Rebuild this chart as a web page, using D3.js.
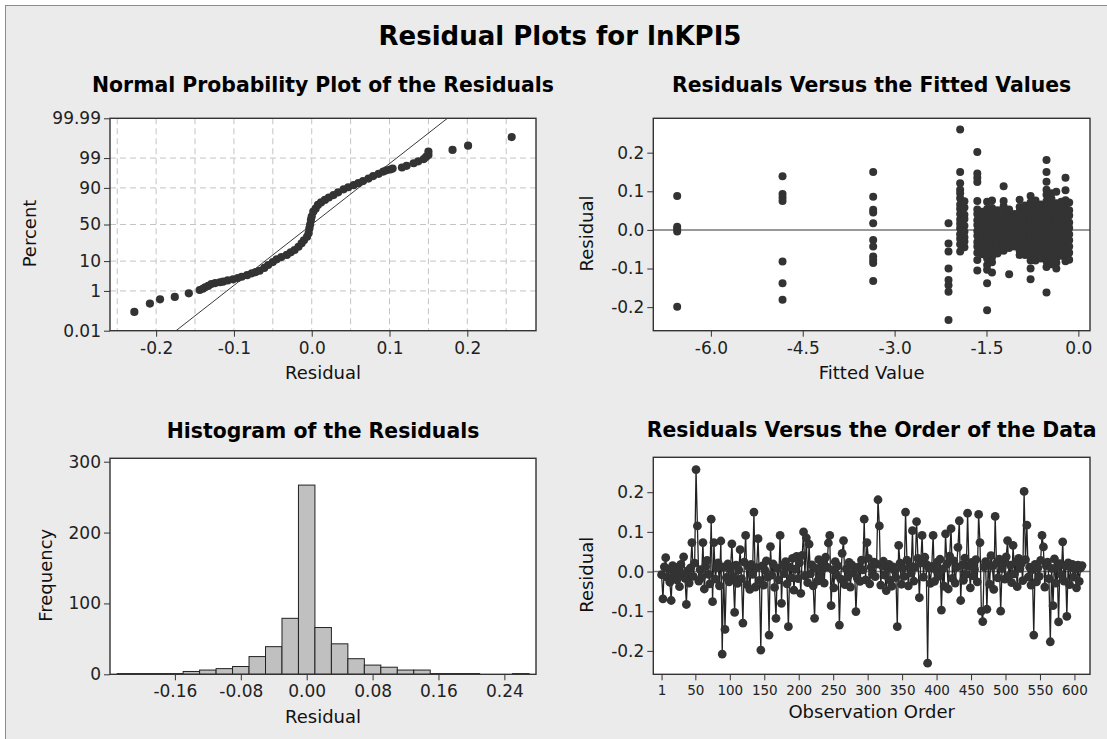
<!DOCTYPE html>
<html>
<head>
<meta charset="utf-8">
<script src="https://cdn.jsdelivr.net/npm/d3@7"></script>
<style>
  body { margin: 0; background: #fff; }
  svg text { font-family: "DejaVu Sans", sans-serif; }
</style>
</head>
<body>
<div id="chart"></div>
<script>
(function() {

  // normal probability plot: residual and cumulative percent
  var probRes = [-0.228, -0.208, -0.195, -0.176, -0.158, -0.144, -0.140, -0.137, -0.133, -0.129,
                 -0.124, -0.118, -0.114, -0.108, -0.101, -0.095, -0.090, -0.083, -0.077, -0.072,
                 -0.067, -0.061, -0.056, -0.050, -0.045, -0.039, -0.032, -0.027, -0.022, -0.017,
                 -0.013, -0.010, -0.006, -0.004, -0.003, -0.002, -0.001, 0.000, 0.002, 0.005,
                 0.008, 0.012, 0.017, 0.022, 0.028, 0.034, 0.041, 0.047, 0.054, 0.060,
                 0.066, 0.073, 0.079, 0.086, 0.092, 0.096, 0.101, 0.104, 0.116, 0.122,
                 0.131, 0.137, 0.144, 0.147, 0.150, 0.150, 0.181, 0.201, 0.257];
  var probPct = [0.11, 0.28, 0.44, 0.56, 0.80, 1.09, 1.22, 1.39, 1.58, 1.86,
                 2.02, 2.16, 2.27, 2.50, 2.74, 3.05, 3.36, 3.80, 4.36, 4.80,
                 5.26, 6.40, 7.80, 9.40, 11.1, 12.7, 14.3, 16.5, 18.6, 21.8,
                 25.5, 29.0, 33.4, 38.0, 44.6, 50.0, 56.3, 61.0, 67.3, 71.0,
                 75.3, 78.0, 80.5, 82.8, 84.9, 87.0, 89.1, 90.4, 91.6, 92.6,
                 93.6, 94.6, 95.5, 96.2, 96.8, 97.1, 97.3, 97.5, 97.7, 98.0,
                 98.4, 98.65, 98.9, 99.1, 99.25, 99.46, 99.55, 99.71, 99.89];
  var normalFit = [0, 0.0469]; // mean, stdev of the fitted line
  var pctTicks = [0.01, 1, 10, 50, 90, 99, 99.99];
  var pctGrid = [1, 10, 50, 90, 99];
  var resGrid = [-0.25, -0.2, -0.15, -0.1, -0.05, 0, 0.05, 0.1, 0.15, 0.2, 0.25];
  var resTicks = [-0.2, -0.1, 0, 0.1, 0.2];

  // residuals versus fits: one fitted value per column of points
  var fitValues = [-6.55, -4.83, -3.35, -2.12, -1.93, -1.86, -1.65, -1.57, -1.49, -1.41, -1.32, -1.22, -1.13,
                   -1.04, -0.96, -0.87, -0.78, -0.70, -0.61, -0.52, -0.44, -0.36, -0.28, -0.21, -0.15];
  var fitResiduals = [
    [0.088, 0.008, 0.003, -0.004, -0.199],
    [0.139, 0.093, 0.084, 0.075, -0.082, -0.138, -0.181],
    [0.150, 0.086, 0.052, 0.045, 0.017, -0.026, -0.043, -0.069, -0.078, -0.086, -0.132],
    [0.017, -0.035, -0.056, -0.100, -0.130, -0.143, -0.160, -0.233],
    [0.260, 0.150, 0.121, 0.104, 0.095, 0.082, 0.066, 0.055, 0.041, 0.027, 0.016, 0.004, -0.011, -0.023, -0.037, -0.056],
    [0.074, 0.058, 0.039, 0.028, 0.011, -0.005, -0.019, -0.030, -0.045],
    [0.202, 0.146, 0.135, 0.124, 0.075, 0.053, 0.041, 0.025, 0.013, -0.003, -0.015, -0.031, -0.043, -0.059, -0.078, -0.105],
    [0.047, 0.035, 0.019, 0.007, -0.009, -0.021, -0.037, -0.049, -0.063],
    [0.073, 0.054, 0.041, 0.025, 0.013, -0.003, -0.015, -0.031, -0.044, -0.061, -0.074, -0.091, -0.103, -0.138, -0.208],
    [0.076, 0.057, 0.045, 0.029, 0.017, 0.001, -0.013, -0.025, -0.041, -0.053, -0.071, -0.084, -0.110],
    [0.051, 0.035, 0.023, 0.007, -0.005, -0.021, -0.033, -0.049, -0.061],
    [0.113, 0.075, 0.061, 0.044, 0.031, 0.015, 0.003, -0.013, -0.025, -0.041, -0.054],
    [0.053, 0.037, 0.025, 0.009, -0.003, -0.019, -0.031, -0.047, -0.115],
    [0.041, 0.025, 0.013, -0.003, -0.015, -0.031, -0.043],
    [0.078, 0.059, 0.046, 0.030, 0.018, 0.002, -0.010, -0.026, -0.038, -0.054, -0.065],
    [0.063, 0.047, 0.035, 0.019, 0.007, -0.009, -0.021, -0.037, -0.049, -0.065],
    [0.088, 0.071, 0.059, 0.043, 0.031, 0.015, 0.003, -0.013, -0.025, -0.041, -0.053, -0.069, -0.079, -0.100, -0.128],
    [0.076, 0.059, 0.047, 0.031, 0.019, 0.003, -0.009, -0.025, -0.037, -0.053, -0.065, -0.079],
    [0.066, 0.049, 0.037, 0.021, 0.009, -0.007, -0.019, -0.035, -0.047, -0.063, -0.074],
    [0.181, 0.150, 0.125, 0.104, 0.091, 0.074, 0.061, 0.044, 0.031, 0.015, 0.003, -0.013, -0.025, -0.041, -0.053, -0.069, -0.081, -0.096, -0.162],
    [0.095, 0.081, 0.063, 0.051, 0.035, 0.023, 0.007, -0.005, -0.021, -0.033, -0.049, -0.061, -0.077, -0.089],
    [0.099, 0.069, 0.056, 0.039, 0.027, 0.011, -0.001, -0.017, -0.029, -0.045, -0.057, -0.073, -0.085, -0.100],
    [0.073, 0.057, 0.045, 0.029, 0.017, 0.001, -0.011, -0.027, -0.039, -0.055, -0.067],
    [0.135, 0.103, 0.077, 0.063, 0.047, 0.035, 0.019, 0.007, -0.009, -0.021, -0.037, -0.049, -0.065, -0.081],
    [0.071, 0.051, 0.037, 0.019, 0.005, -0.011, -0.027, -0.043, -0.059, -0.077]
  ];
  var fitTicks = [-6, -4.5, -3, -1.5, 0];

  // histogram: bin centres (width 0.02) and counts
  var binMids = [-0.22, -0.20, -0.18, -0.16, -0.14, -0.12, -0.10, -0.08, -0.06, -0.04, -0.02, 0.00,
                 0.02, 0.04, 0.06, 0.08, 0.10, 0.12, 0.14, 0.16, 0.18, 0.20, 0.22, 0.24, 0.26];
  var binCounts = [1, 1, 1, 1, 4, 6, 8, 11, 25, 39, 79, 267,
                   66, 43, 22, 13, 10, 6, 6, 1, 1, 1, 0, 0, 1];
  var binWidth = 0.02;
  var histXTicks = [-0.16, -0.08, 0, 0.08, 0.16, 0.24];
  var histYTicks = [0, 100, 200, 300];

  // residuals in observation order (every second observation, starting at 1)
  var orderStep = 2;
  var orderRes = [
    -0.008, -0.069, 0.012, 0.035, -0.014, 0.006, -0.027, -0.073, 0.015, -0.009,
    0.004, -0.021, 0.011, -0.038, 0.018, -0.006, 0.037, -0.017, -0.083, 0.002,
    -0.029, 0.009, 0.073, -0.012, 0.021, 0.257, 0.115, -0.024, 0.005, -0.015,
    0.073, -0.044, 0.013, 0.028, -0.007, -0.031, 0.132, -0.076, 0.073, -0.019,
    0.010, 0.022, -0.036, 0.077, -0.208, 0.011, -0.146, -0.015, 0.019, -0.026,
    0.007, 0.070, -0.012, -0.103, 0.016, -0.030, 0.004, 0.055, -0.018, -0.130,
    0.024, 0.091, -0.033, 0.012, -0.045, 0.018, -0.007, 0.150, -0.039, 0.010,
    0.083, -0.022, -0.198, 0.014, -0.034, 0.003, 0.027, -0.014, -0.160, 0.063,
    -0.009, 0.019, -0.040, -0.118, 0.008, -0.021, 0.091, -0.080, 0.016, -0.005,
    0.025, -0.031, -0.139, 0.011, -0.016, 0.033, -0.047, 0.006, 0.038, -0.018,
    0.022, -0.055, 0.041, 0.100, -0.011, 0.085, -0.028, 0.069, -0.006, 0.017,
    -0.036, -0.118, 0.008, -0.024, 0.030, -0.013, 0.003, 0.021, -0.029, 0.036,
    0.011, 0.072, 0.091, -0.086, 0.005, -0.041, 0.025, -0.009, 0.014, -0.135,
    -0.019, 0.046, 0.078, -0.033, 0.007, -0.014, 0.023, -0.039, 0.017, -0.004,
    0.009, -0.101, -0.017, 0.012, -0.025, 0.029, 0.004, 0.132, -0.021, 0.073,
    0.033, -0.031, 0.011, -0.007, 0.024, -0.013, 0.019, 0.181, 0.115, -0.034,
    0.014, 0.026, -0.009, -0.048, 0.006, 0.018, -0.022, -0.037, 0.012, 0.003,
    -0.015, -0.139, 0.066, 0.021, -0.032, 0.008, -0.012, 0.150, 0.029, -0.036,
    0.015, -0.004, 0.103, -0.024, 0.011, 0.126, 0.033, -0.066, 0.022, 0.091,
    -0.014, 0.036, 0.018, -0.231, 0.009, -0.030, 0.013, 0.091, -0.025, 0.004,
    0.024, -0.012, 0.031, -0.097, 0.007, -0.037, 0.095, 0.019, -0.044, 0.039,
    0.108, -0.017, 0.027, -0.029, 0.011, 0.061, 0.128, -0.073, 0.016, -0.022,
    0.034, -0.007, 0.147, 0.014, -0.041, 0.023, -0.011, 0.006, 0.030, -0.026,
    0.144, 0.073, -0.100, -0.126, 0.012, 0.025, -0.095, 0.018, -0.032, 0.040,
    0.013, -0.045, 0.139, 0.021, -0.016, 0.031, -0.100, 0.008, 0.026, -0.019,
    0.037, 0.078, -0.011, 0.016, -0.028, 0.066, -0.006, 0.024, -0.038, 0.033,
    0.008, 0.020, -0.023, 0.202, 0.030, 0.117, -0.014, 0.011, -0.034, 0.005,
    -0.160, 0.018, -0.026, 0.009, -0.012, 0.028, 0.091, 0.062, -0.039, 0.015,
    0.024, -0.018, -0.177, 0.008, -0.086, 0.032, -0.029, 0.012, -0.127, 0.020,
    -0.008, 0.075, -0.024, 0.014, -0.113, 0.022, -0.033, 0.010, 0.018, -0.014,
    0.006, -0.041, 0.016, -0.025, 0.009, 0.015
  ];
  var orderTicks = [1, 50, 100, 150, 200, 250, 300, 350, 400, 450, 500, 550, 600];

  // panel boxes
  var p1 = {l: 110, t: 118.3, r: 536, b: 330.7},
      p2 = {l: 653.3, t: 118.3, r: 1090, b: 330.7},
      p3 = {l: 110, t: 458.3, r: 536, b: 674.3},
      p4 = {l: 653.3, t: 457.3, r: 1090, b: 674.3};

  var ink = '#333';
  var fmt = d3.formatLocale({decimal: '.', thousands: ',', grouping: [3], currency: ['', ''], minus: '-'}).format;

  // inverse normal cdf (Acklam), used for the probability axis
  function probit(p) {
    var a = [-3.969683028665376e+01, 2.209460984245205e+02, -2.759285104469687e+02, 1.383577518672690e+02, -3.066479806614716e+01, 2.506628277459239e+00],
        b = [-5.447609879822406e+01, 1.615858368580409e+02, -1.556989798598866e+02, 6.680131188771972e+01, -1.328068155288572e+01],
        c = [-7.784894002430293e-03, -3.223964580411365e-01, -2.400758277161838e+00, -2.549732539343734e+00, 4.374664141464968e+00, 2.938163982698783e+00],
        d = [7.784695709041462e-03, 3.224671290700398e-01, 2.445134137142996e+00, 3.754408661907416e+00];
    var lo = 0.02425, q, r;
    if (p < lo) {
      q = Math.sqrt(-2 * Math.log(p));
      return (((((c[0]*q+c[1])*q+c[2])*q+c[3])*q+c[4])*q+c[5]) / ((((d[0]*q+d[1])*q+d[2])*q+d[3])*q+1);
    }
    if (p > 1 - lo) {
      q = Math.sqrt(-2 * Math.log(1 - p));
      return -(((((c[0]*q+c[1])*q+c[2])*q+c[3])*q+c[4])*q+c[5]) / ((((d[0]*q+d[1])*q+d[2])*q+d[3])*q+1);
    }
    q = p - 0.5; r = q * q;
    return (((((a[0]*r+a[1])*r+a[2])*r+a[3])*r+a[4])*r+a[5])*q / (((((b[0]*r+b[1])*r+b[2])*r+b[3])*r+b[4])*r+1);
  }

  var svg = d3.select('#chart').append('svg')
    .attr('width', 1107)
    .attr('height', 739);

  svg.append('rect')
    .attr('x', 5.5).attr('y', 5.5)
    .attr('width', 1130).attr('height', 760)
    .attr('fill', '#ebebeb')
    .attr('stroke', '#8c8c8c');

  svg.append('text')
    .attr('x', 560).attr('y', 45)
    .attr('text-anchor', 'middle')
    .style('font-size', '26px')
    .style('font-weight', 'bold')
    .style('fill', '#000')
    .text('Residual Plots for lnKPI5');

  function plotArea(box, title, titleY) {
    svg.append('rect')
      .attr('x', box.l).attr('y', box.t)
      .attr('width', box.r - box.l).attr('height', box.b - box.t)
      .attr('fill', '#fff');
    svg.append('text')
      .attr('x', (box.l + box.r) / 2).attr('y', titleY)
      .attr('text-anchor', 'middle')
      .style('font-size', '20.4px')
      .style('font-weight', 'bold')
      .style('fill', '#000')
      .text(title);
    var g = svg.append('g');
    g.append('clipPath').attr('id', 'clip' + titleY + box.l)
      .append('rect')
      .attr('x', box.l).attr('y', box.t)
      .attr('width', box.r - box.l).attr('height', box.b - box.t);
    return g.append('g').attr('clip-path', 'url(#clip' + titleY + box.l + ')');
  }

  function axes(box, xAxis, yAxis, xSize, xLabel, xLabelY, yLabel, yLabelX) {
    var gx = svg.append('g')
      .attr('transform', 'translate(0,' + box.b + ')')
      .call(xAxis.tickSize(6).tickPadding(5));
    var gy = svg.append('g')
      .attr('transform', 'translate(' + box.l + ',0)')
      .call(yAxis.tickSize(6).tickPadding(3));
    [gx, gy].forEach(function(g) {
      g.select('.domain').remove();
      g.selectAll('line').attr('stroke', ink);
      g.selectAll('text').style('fill', '#222').style('font-size', '17px');
    });
    gx.selectAll('text').style('font-size', xSize);

    svg.append('rect')
      .attr('x', box.l).attr('y', box.t)
      .attr('width', box.r - box.l).attr('height', box.b - box.t)
      .attr('fill', 'none')
      .attr('stroke', ink)
      .attr('stroke-width', 1.4);

    svg.append('text')
      .attr('x', (box.l + box.r) / 2).attr('y', xLabelY)
      .attr('text-anchor', 'middle')
      .style('font-size', '18px')
      .style('fill', '#111')
      .text(xLabel);
    svg.append('text')
      .attr('transform', 'translate(' + yLabelX + ',' + ((box.t + box.b) / 2 + 9) + ') rotate(-90)')
      .attr('text-anchor', 'middle')
      .style('font-size', '18px')
      .style('fill', '#111')
      .text(yLabel);
  }

  // ---- normal probability plot ----
  var x1 = d3.scaleLinear().domain([-0.2593, 0.2883]).range([p1.l, p1.r]),
      y1 = d3.scaleLinear().domain([probit(0.0001), probit(0.9999)]).range([p1.b, p1.t]);
  var py = function(pct) { return y1(probit(pct / 100)); };

  var g1 = plotArea(p1, 'Normal Probability Plot of the Residuals', 92);
  g1.selectAll('.vgrid').data(resGrid).enter().append('line')
    .attr('x1', x1).attr('x2', x1)
    .attr('y1', p1.t).attr('y2', p1.b)
    .attr('stroke', '#c4c4c4').attr('stroke-dasharray', '6,4');
  g1.selectAll('.hgrid').data(pctGrid).enter().append('line')
    .attr('x1', p1.l).attr('x2', p1.r)
    .attr('y1', py).attr('y2', py)
    .attr('stroke', '#c4c4c4').attr('stroke-dasharray', '6,4');
  var zEnds = [probit(0.0001), probit(0.9999)];
  g1.append('line')
    .attr('x1', x1(normalFit[0] + normalFit[1] * zEnds[0])).attr('y1', y1(zEnds[0]))
    .attr('x2', x1(normalFit[0] + normalFit[1] * zEnds[1])).attr('y2', y1(zEnds[1]))
    .attr('stroke', '#222').attr('stroke-width', 0.9);
  g1.selectAll('circle').data(probRes).enter().append('circle')
    .attr('cx', function(d) { return x1(d); })
    .attr('cy', function(d, i) { return py(probPct[i]); })
    .attr('r', 4.1)
    .attr('fill', ink);

  axes(p1,
    d3.axisBottom(x1).tickValues(resTicks).tickFormat(fmt('.1f')),
    d3.axisLeft(y1).tickValues(pctTicks.map(function(p) { return probit(p / 100); }))
      .tickFormat(function(z, i) { return String(pctTicks[i]); }),
    '17px', 'Residual', 379, 'Percent', 36);

  // ---- residuals versus fits ----
  var x2 = d3.scaleLinear().domain([-6.94, 0.19]).range([p2.l, p2.r]),
      y2 = d3.scaleLinear().domain([-0.261, 0.289]).range([p2.b, p2.t]);
  var g2 = plotArea(p2, 'Residuals Versus the Fitted Values', 92);
  g2.append('line')
    .attr('x1', p2.l).attr('x2', p2.r)
    .attr('y1', y2(0)).attr('y2', y2(0))
    .attr('stroke', '#777').attr('stroke-width', 1.5);
  var fitPoints = [];
  fitValues.forEach(function(f, i) {
    fitResiduals[i].forEach(function(r) { fitPoints.push([f, r]); });
  });
  g2.selectAll('circle').data(fitPoints).enter().append('circle')
    .attr('cx', function(d) { return x2(d[0]); })
    .attr('cy', function(d) { return y2(d[1]); })
    .attr('r', 4.0)
    .attr('fill', ink);
  axes(p2,
    d3.axisBottom(x2).tickValues(fitTicks).tickFormat(fmt('.1f')),
    d3.axisLeft(y2).tickValues(resTicks).tickFormat(fmt('.1f')),
    '17px', 'Fitted Value', 379, 'Residual', 593);

  // ---- histogram ----
  var x3 = d3.scaleLinear().domain([-0.2388, 0.2784]).range([p3.l, p3.r]),
      y3 = d3.scaleLinear().domain([0, 304.8]).range([p3.b, p3.t]);
  var g3 = plotArea(p3, 'Histogram of the Residuals', 438);
  g3.selectAll('rect.bar').data(binMids).enter().append('rect')
    .attr('class', 'bar')
    .attr('x', function(d) { return x3(d - binWidth / 2); })
    .attr('width', function(d) { return x3(d + binWidth / 2) - x3(d - binWidth / 2); })
    .attr('y', function(d, i) { return y3(binCounts[i]); })
    .attr('height', function(d, i) { return y3(0) - y3(binCounts[i]); })
    .attr('fill', '#c0c0c0')
    .attr('stroke', '#222')
    .attr('stroke-width', 1)
    .style('display', function(d, i) { return binCounts[i] ? null : 'none'; });
  axes(p3,
    d3.axisBottom(x3).tickValues(histXTicks).tickFormat(fmt('.2f')),
    d3.axisLeft(y3).tickValues(histYTicks).tickFormat(fmt('d')),
    '17px', 'Residual', 723, 'Frequency', 52);

  // ---- residuals versus order ----
  var x4 = d3.scaleLinear().domain([-11, 622.6]).range([p4.l, p4.r]),
      y4 = d3.scaleLinear().domain([-0.259, 0.288]).range([p4.b, p4.t]);
  var g4 = plotArea(p4, 'Residuals Versus the Order of the Data', 437);
  g4.append('line')
    .attr('x1', p4.l).attr('x2', p4.r)
    .attr('y1', y4(0)).attr('y2', y4(0))
    .attr('stroke', '#777').attr('stroke-width', 1.5);
  var obs = function(i) { return 1 + i * orderStep; };
  g4.append('path')
    .datum(orderRes)
    .attr('d', d3.line()
      .x(function(d, i) { return x4(obs(i)); })
      .y(function(d) { return y4(d); }))
    .attr('fill', 'none')
    .attr('stroke', '#222')
    .attr('stroke-width', 1.3);
  g4.selectAll('circle').data(orderRes).enter().append('circle')
    .attr('cx', function(d, i) { return x4(obs(i)); })
    .attr('cy', function(d) { return y4(d); })
    .attr('r', 4.4)
    .attr('fill', ink);
  axes(p4,
    d3.axisBottom(x4).tickValues(orderTicks).tickFormat(fmt('d')),
    d3.axisLeft(y4).tickValues(resTicks).tickFormat(fmt('.1f')),
    '13.5px', 'Observation Order', 718, 'Residual', 593);

})();
</script>
</body>
</html>
